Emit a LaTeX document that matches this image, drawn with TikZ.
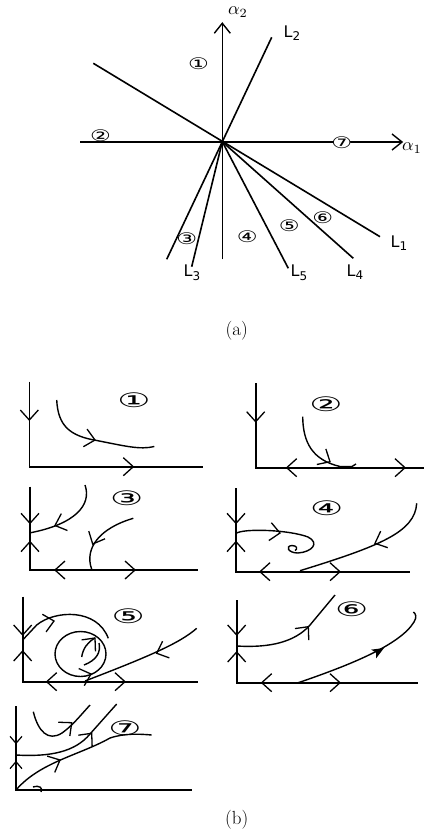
\documentclass[tikz,border=0pt]{standalone}
\usepackage{fontspec}
\usepackage{graphicx}
\newfontfamily\dvs{DejaVu Sans}
\usetikzlibrary{arrows.meta}
\newcommand{\circA}[1]{\scalebox{1.45}[1]{\dvs\fontsize{16}{16}\selectfont #1}}
\newcommand{\circB}[1]{\scalebox{1.85}[1]{\dvs\fontsize{20}{20}\selectfont #1}}
\newcommand{\Lsub}[1]{L{\fontsize{12}{12}\selectfont\raisebox{-3.5pt}{#1}}}
\newcommand{\alp}[1]{\scalebox{1.8}{$\alpha_{#1}$}}
\begin{document}
\begin{tikzpicture}[x=1pt,y=-1pt,
  ln/.style={line width=1.6pt},
  cv/.style={line width=1.4pt},
  cna/.style={inner sep=0pt},
  lbl/.style={inner sep=0pt,font=\dvs\fontsize{16}{16}\selectfont},
  alab/.style={inner sep=0pt},
  captxt/.style={inner sep=0pt,font=\fontsize{19}{22}\selectfont},
  ah/.pic={\draw[line width=1.4pt] (-10,-8) -- (0,0) -- (-10,8);},
  vh/.pic={\draw[line width=1.3pt] (-10,-9) -- (0,0) -- (-10,9);},
  vs/.pic={\draw[line width=1.2pt] (-7,-6) -- (0,0) -- (-7,6);},
  fh/.pic={\fill (0,0) -- (-12,-5) -- (-9,0) -- (-12,5) -- cycle;}]
\useasboundingbox (0,0) rectangle (424,834);
\fill[white] (0,0) rectangle (424,834);

% ---------------- (a) ----------------
\coordinate (O) at (222.3,141.7);
\coordinate (a2top) at (222.3,23.3);
\coordinate (a2bot) at (222.3,259.3);
\coordinate (a1l) at (80,142);
\coordinate (a1r) at (402,142);
\coordinate (L1a) at (93.3,63.3);
\coordinate (L1b) at (380,236.7);
\coordinate (L2a) at (271.7,37.3);
\coordinate (L2b) at (166.7,259.3);
\coordinate (L3b) at (191.7,266.7);
\coordinate (L5b) at (288.3,268.3);
\coordinate (L4b) at (353.3,258.3);
\draw[ln] (a2bot) -- (a2top);
\pic[rotate=90] at (a2top) {ah};
\draw[ln] (a1l) -- (a1r);
\pic at (a1r) {ah};
\draw[ln] (L1a) -- (L1b);
\draw[ln] (L2a) -- (L2b);
\draw[ln] (O) -- (L3b);
\draw[ln] (O) -- (L5b);
\draw[ln] (O) -- (L4b);
\node[alab] (alpha2) at (238,12) {\alp{2}};
\node[alab] (alpha1) at (412,148) {\alp{1}};
\node[lbl] (tL2) at (292,33) {\Lsub{2}};
\node[lbl] (tL1) at (399,243) {\Lsub{1}};
\node[lbl] (tL3) at (192,273) {\Lsub{3}};
\node[lbl] (tL5) at (299,273) {\Lsub{5}};
\node[lbl] (tL4) at (355,272) {\Lsub{4}};
\fill[white] (341.7,142.5) ellipse [x radius=8.5, y radius=5];
\node[cna] (r1) at (198.5,63.5) {\circA{①}};
\node[cna] (r2) at (100.5,136) {\circA{②}};
\node[cna] (r7) at (341.7,142.5) {\circA{⑦}};
\node[cna] (r3) at (186.7,238.3) {\circA{③}};
\node[cna] (r4) at (247.3,236.7) {\circA{④}};
\node[cna] (r5) at (289.3,225.7) {\circA{⑤}};
\node[cna] (r6) at (322.7,217.7) {\circA{⑥}};
\node[captxt] (capa) at (236.7,330.7) {(a)};

% ---------------- (b) panel 1 ----------------
\draw[ln] (29.3,381.7) -- (29.3,466.7) -- (203.3,466.7);
\pic[rotate=-90] at (29.3,420) {vh};
\pic at (133.3,466.7) {vh};
\draw[cv] (56.7,400) .. controls (58,426) and (70,436) .. (96.7,440.5) .. controls (125,446) and (140,450) .. (154.3,446.5);
\pic[rotate=-12] at (95,440) {vh};
\node[cna] (p1) at (134,400) {\circB{①}};

% ---------------- panel 2 ----------------
\draw[ln] (255.7,383.3) -- (255.7,467.7) -- (424,467.7);
\pic[rotate=-90] at (255.7,421.7) {vh};
\pic[rotate=180] at (286.7,467.7) {vh};
\pic at (405,467.7) {vh};
\draw[cv] (302.7,416.7) .. controls (303,442) and (312,460) .. (340,466.5) -- (352,466.5) -- (356,464);
\pic[rotate=-30] at (330,461.7) {vh};
\node[cna] (p2) at (326,404.3) {\circB{②}};

% ---------------- panel 3 ----------------
\draw[ln] (30,486.7) -- (30,570) -- (198.3,570);
\pic[rotate=-90] at (30,523.3) {vh};
\pic[rotate=90] at (30,541.7) {vh};
\pic[rotate=180] at (55,570) {vh};
\pic at (135,570) {vh};
\draw[cv] (85,485) .. controls (92,505) and (75,524) .. (30.7,532.7);
\pic[rotate=200] at (55,525.5) {vh};
\draw[cv] (133.3,518.3) .. controls (100,528) and (84,548) .. (91.7,569.3);
\pic[rotate=245] at (92.7,544) {vh};
\node[cna] (p3) at (126.7,498.3) {\circB{③}};

% ---------------- panel 4 ----------------
\draw[ln] (236,488) -- (236,571.7) -- (410,571.7);
\pic[rotate=-90] at (236,523.3) {vh};
\pic[rotate=90] at (236,541.7) {vh};
\pic[rotate=180] at (260,571.7) {vh};
\pic at (340,571.7) {vh};
\draw[cv] (236,533.3) .. controls (245,528) and (290,530) .. (308,537) .. controls (320,543) and (312,552) .. (298,553) .. controls (288,553) and (285,546) .. (292,545.5) .. controls (297,545.5) and (298,549) .. (295,550.5);
\pic[rotate=-8] at (280,533) {vh};
\draw[cv] (416.7,503.3) .. controls (415,532) and (380,546) .. (300,570.7);
\pic[rotate=203] at (375,543.3) {vh};
\node[cna] (p4) at (326.7,508.3) {\circB{④}};

% ---------------- panel 5 ----------------
\draw[ln] (22.7,596.7) -- (22.7,681.7) -- (198,681.7);
\pic[rotate=-90] at (22.7,635) {vh};
\pic[rotate=90] at (22.7,651) {vh};
\pic[rotate=180] at (46.7,681.7) {vh};
\pic at (125,681.7) {vh};
\draw[cv] (22.7,640) -- (36.7,625) .. controls (55,610) and (97,608) .. (108.3,638.3);
\pic[rotate=12] at (54,621) {vh};
\draw[cv] (80.5,654) ellipse [x radius=25.5, y radius=22.5];
\draw[cv] (81.7,657) .. controls (83,648) and (88,642) .. (95,638);
\pic[rotate=50] at (95,638) {vh};
\draw[cv] (84,665) .. controls (97,660) and (101,652) .. (99,643);
\pic[rotate=18] at (91,674) {vh};
\draw[cv] (196.7,628.3) .. controls (180,643) and (150,656) .. (85,681);
\pic[rotate=202] at (156.7,653.3) {vh};
\node[cna] (p5) at (128.3,616.7) {\circB{⑤}};

% ---------------- panel 6 ----------------
\draw[ln] (236.7,600) -- (236.7,682.7) -- (418.3,682.7);
\pic[rotate=-90] at (236.7,635) {vh};
\pic[rotate=90] at (236.7,652) {vh};
\pic[rotate=180] at (261.7,682.7) {vh};
\pic at (340,682.7) {vh};
\draw[cv] (236.7,646) .. controls (270,648) and (295,642) .. (310,625) -- (335,595);
\pic[rotate=50] at (308.3,626.7) {vh};
\draw[cv] (298.3,682.7) .. controls (350,665) and (400,645) .. (414,622) .. controls (417,617) and (416,614) .. (413.3,612);
\pic[rotate=30] at (384,648) {fh};
\node[cna] (p6) at (351.7,609) {\circB{⑥}};

% ---------------- panel 7 ----------------
\draw[ln] (16,706) -- (16,790) -- (191.7,790);
\pic[rotate=-90] at (16,743.3) {vs};
\pic[rotate=90] at (16,761.7) {vs};
\draw[cv] (33,787) .. controls (40,785) and (43,788) .. (41,792);
\draw[cv] (33.3,711.7) .. controls (38,731) and (48,742) .. (62,733) .. controls (72,726) and (80,716) .. (90,705);
\pic[rotate=40] at (71.7,722.7) {vh};
\draw[cv] (16,755) .. controls (50,757) and (75,752) .. (90,734) -- (116.7,704);
\pic[rotate=50] at (91.7,733.3) {vh};
\draw[cv] (16,790) .. controls (40,762) and (80,755) .. (110,738) .. controls (125,733) and (140,734) .. (151.7,735);
\pic[rotate=25] at (60,760) {vh};
\node[cna] (p7) at (125,728.3) {\circB{⑦}};

\node[captxt] (capb) at (236.7,820) {(b)};
\end{tikzpicture}
\end{document}
